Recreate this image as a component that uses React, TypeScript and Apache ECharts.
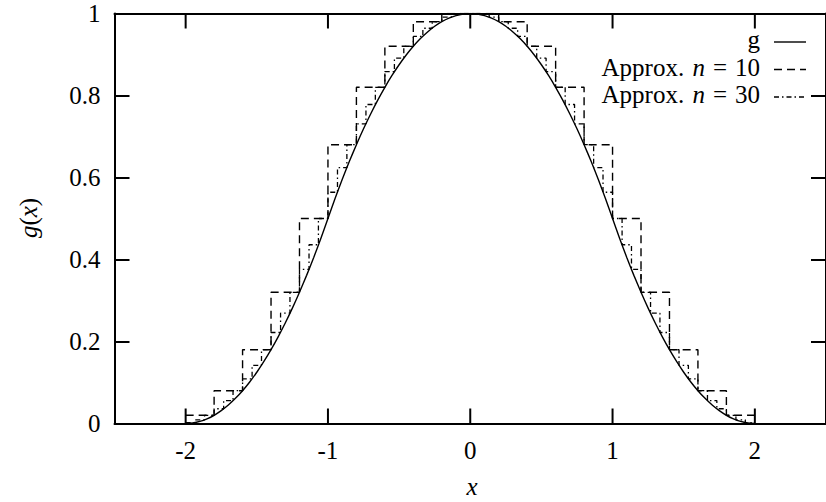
import React, { useEffect, useRef } from 'react';
import * as echarts from 'echarts';

// Axis ticks
const xTicks = [-2, -1, 0, 1, 2];
const yTicks = [0, 0.2, 0.4, 0.6, 0.8, 1];

// Exact function g(x), sampled every 0.05
const curveX = [
  -2, -1.95, -1.9, -1.85, -1.8, -1.75, -1.7, -1.65, -1.6, -1.55,
  -1.5, -1.45, -1.4, -1.35, -1.3, -1.25, -1.2, -1.15, -1.1, -1.05,
  -1, -0.95, -0.9, -0.85, -0.8, -0.75, -0.7, -0.65, -0.6, -0.55,
  -0.5, -0.45, -0.4, -0.35, -0.3, -0.25, -0.2, -0.15, -0.1, -0.05,
  0,
  0.05, 0.1, 0.15, 0.2, 0.25, 0.3, 0.35, 0.4, 0.45, 0.5,
  0.55, 0.6, 0.65, 0.7, 0.75, 0.8, 0.85, 0.9, 0.95, 1,
  1.05, 1.1, 1.15, 1.2, 1.25, 1.3, 1.35, 1.4, 1.45, 1.5,
  1.55, 1.6, 1.65, 1.7, 1.75, 1.8, 1.85, 1.9, 1.95, 2,
];
const curveY = [
  0, 0.0013, 0.005, 0.0113, 0.02, 0.0313, 0.045, 0.0613, 0.08, 0.1013,
  0.125, 0.1513, 0.18, 0.2113, 0.245, 0.2813, 0.32, 0.3613, 0.405, 0.4513,
  0.5, 0.5488, 0.595, 0.6388, 0.68, 0.7188, 0.755, 0.7888, 0.82, 0.8488,
  0.875, 0.8988, 0.92, 0.9388, 0.955, 0.9688, 0.98, 0.9888, 0.995, 0.9988,
  1,
  0.9988, 0.995, 0.9888, 0.98, 0.9688, 0.955, 0.9388, 0.92, 0.8988, 0.875,
  0.8488, 0.82, 0.7888, 0.755, 0.7188, 0.68, 0.6388, 0.595, 0.5488, 0.5,
  0.4513, 0.405, 0.3613, 0.32, 0.2813, 0.245, 0.2113, 0.18, 0.1513, 0.125,
  0.1013, 0.08, 0.0613, 0.045, 0.0313, 0.02, 0.0113, 0.005, 0.0013, 0,
];

// Step approximation, n = 10: cell edges and cell values
const edges10 = [
  -2, -1.8, -1.6, -1.4, -1.2, -1, -0.8, -0.6, -0.4, -0.2, 0,
  0.2, 0.4, 0.6, 0.8, 1, 1.2, 1.4, 1.6, 1.8, 2,
];
const approx10 = [
  0.02, 0.08, 0.18, 0.32, 0.5, 0.68, 0.82, 0.92, 0.98, 1,
  1, 0.98, 0.92, 0.82, 0.68, 0.5, 0.32, 0.18, 0.08, 0.02,
];

// Step approximation, n = 30: cell edges and cell values
const edges30 = [
  -2, -1.933, -1.867, -1.8, -1.733, -1.667, -1.6, -1.533, -1.467, -1.4,
  -1.333, -1.267, -1.2, -1.133, -1.067, -1, -0.933, -0.867, -0.8, -0.733,
  -0.667, -0.6, -0.533, -0.467, -0.4, -0.333, -0.267, -0.2, -0.133, -0.067,
  0, 0.067, 0.133, 0.2, 0.267, 0.333, 0.4, 0.467, 0.533, 0.6,
  0.667, 0.733, 0.8, 0.867, 0.933, 1, 1.067, 1.133, 1.2, 1.267,
  1.333, 1.4, 1.467, 1.533, 1.6, 1.667, 1.733, 1.8, 1.867, 1.933, 2,
];
const approx30 = [
  0.002, 0.009, 0.02, 0.036, 0.056, 0.08, 0.109, 0.142, 0.18, 0.222,
  0.269, 0.32, 0.376, 0.436, 0.5, 0.564, 0.624, 0.68, 0.731, 0.778,
  0.82, 0.858, 0.891, 0.92, 0.944, 0.964, 0.98, 0.991, 0.998, 1,
  1, 0.998, 0.991, 0.98, 0.964, 0.944, 0.92, 0.891, 0.858, 0.82,
  0.778, 0.731, 0.68, 0.624, 0.564, 0.5, 0.436, 0.376, 0.32, 0.269,
  0.222, 0.18, 0.142, 0.109, 0.08, 0.056, 0.036, 0.02, 0.009, 0.002,
];

const FONT = "'Liberation Serif', 'Times New Roman', serif";
const FS = 25;
const TICK_LEN = 15;
const DASH10 = [8, 5];
const DASH30 = [5, 3, 1.5, 3];

function stepPoints(edges: number[], vals: number[]) {
  const pts = vals.map((v, i) => [edges[i], v]);
  pts.push([edges[edges.length - 1], vals[vals.length - 1]]);
  return pts;
}

const rich = {
  r: { fontFamily: FONT, fontSize: FS, fill: '#000' },
  i: { fontFamily: FONT, fontSize: FS, fontStyle: 'italic', fill: '#000', padding: [0, 8, 0, 2] },
  eq: { fontFamily: FONT, fontSize: FS, fill: '#000', padding: [0, 8, 0, 0] },
};

export default function App() {
  const ref = useRef<HTMLDivElement>(null);

  useEffect(() => {
    if (!ref.current) return;
    const chart = echarts.init(ref.current, null, { renderer: 'svg' });

    const axisLine = { show: true, onZero: false, lineStyle: { color: '#000', width: 2 } };
    const tickStyle = { color: '#000', width: 2 };
    const labelStyle = { fontFamily: FONT, fontSize: FS, color: '#000' };
    const yTick = { show: true, inside: true, length: TICK_LEN, customValues: yTicks, lineStyle: tickStyle };

    const legendRows = [
      { text: '{r|g}', lineY: 42, dash: null as number[] | null },
      { text: '{r|Approx. }{i|n}{eq|=}{r|10}', lineY: 69.5, dash: DASH10 },
      { text: '{r|Approx. }{i|n}{eq|=}{r|30}', lineY: 97, dash: DASH30 },
    ];

    const graphic: any[] = [];
    legendRows.forEach((row) => {
      graphic.push({
        type: 'text',
        x: 760,
        y: row.lineY - 2.5,
        silent: true,
        style: { text: row.text, rich, align: 'right', verticalAlign: 'middle' },
      });
      graphic.push({
        type: 'line',
        silent: true,
        shape: { x1: 774, y1: row.lineY, x2: 806, y2: row.lineY },
        style: { stroke: '#000', lineWidth: 1.4, lineDash: row.dash || undefined },
      });
    });
    graphic.push({
      type: 'text',
      x: 472,
      y: 486,
      silent: true,
      style: {
        text: '{ri|x}',
        rich: { ri: { fontFamily: FONT, fontSize: FS, fontStyle: 'italic', fill: '#000' } },
        align: 'center',
        verticalAlign: 'middle',
      },
    });
    graphic.push({
      type: 'text',
      x: 28,
      y: 218,
      rotation: Math.PI / 2,
      silent: true,
      style: {
        text: '{ri|g}{r|(}{ri|x}{r|)}',
        rich: {
          r: rich.r,
          ri: { fontFamily: FONT, fontSize: FS, fontStyle: 'italic', fill: '#000' },
        },
        align: 'center',
        verticalAlign: 'middle',
      },
    });

    chart.setOption({
      animation: false,
      backgroundColor: '#fff',
      grid: { left: 114.5, right: -3.5, top: 13.5, bottom: 78.5 },
      xAxis: [
        {
          type: 'value',
          min: -2.5,
          max: 2.5,
          splitNumber: 5,
          position: 'bottom',
          axisLine,
          axisTick: { show: false },
          axisLabel: {
            ...labelStyle,
            customValues: xTicks,
            margin: 14,
            formatter: (v: number) => String(v),
          },
          splitLine: { show: false },
        },
        {
          type: 'value',
          min: -2.5,
          max: 2.5,
          splitNumber: 5,
          position: 'top',
          axisLine,
          axisTick: { show: false },
          axisLabel: { show: false },
          splitLine: { show: false },
        },
      ],
      yAxis: [
        {
          type: 'value',
          min: 0,
          max: 1,
          interval: 0.2,
          position: 'left',
          axisLine,
          axisTick: yTick,
          axisLabel: {
            ...labelStyle,
            customValues: yTicks,
            margin: 14,
            formatter: (v: number) => String(Math.round(v * 10) / 10),
          },
          splitLine: { show: false },
        },
        {
          type: 'value',
          min: 0,
          max: 1,
          interval: 0.2,
          position: 'right',
          axisLine,
          axisTick: yTick,
          axisLabel: { show: false },
          splitLine: { show: false },
        },
      ],
      series: [
        {
          name: 'g',
          type: 'line',
          xAxisIndex: 0,
          yAxisIndex: 0,
          data: curveX.map((x, i) => [x, curveY[i]]),
          symbol: 'none',
          smooth: 0.25,
          silent: true,
          lineStyle: { color: '#000', width: 1.4 },
        },
        {
          name: 'Approx. n = 10',
          type: 'line',
          xAxisIndex: 0,
          yAxisIndex: 0,
          step: 'end',
          data: stepPoints(edges10, approx10),
          symbol: 'none',
          silent: true,
          lineStyle: { color: '#000', width: 1.4, type: DASH10 },
        },
        {
          name: 'Approx. n = 30',
          type: 'line',
          xAxisIndex: 0,
          yAxisIndex: 0,
          step: 'end',
          data: stepPoints(edges30, approx30),
          symbol: 'none',
          silent: true,
          lineStyle: { color: '#000', width: 1.3, type: DASH30 },
        },
      ],
      graphic,
    });

    // Inward tick marks on the bottom and top frame edges, placed through the axis scales
    const tickMarks: any[] = [];
    xTicks.forEach((v) => {
      const b = chart.convertToPixel({ xAxisIndex: 0, yAxisIndex: 0 }, [v, 0]) as number[];
      const t = chart.convertToPixel({ xAxisIndex: 0, yAxisIndex: 0 }, [v, 1]) as number[];
      tickMarks.push({
        type: 'rect',
        silent: true,
        z: 10,
        shape: { x: b[0] - 1, y: b[1] - TICK_LEN, width: 2, height: TICK_LEN },
        style: { fill: '#000' },
      });
      tickMarks.push({
        type: 'rect',
        silent: true,
        z: 10,
        shape: { x: t[0] - 1, y: t[1], width: 2, height: TICK_LEN },
        style: { fill: '#000' },
      });
    });
    chart.setOption({ graphic: [...graphic, ...tickMarks] });

    return () => chart.dispose();
  }, []);

  return (
    <div
      ref={ref}
      style={{ position: 'absolute', left: 0, top: 0, width: 826, height: 502, background: '#fff' }}
    />
  );
}
